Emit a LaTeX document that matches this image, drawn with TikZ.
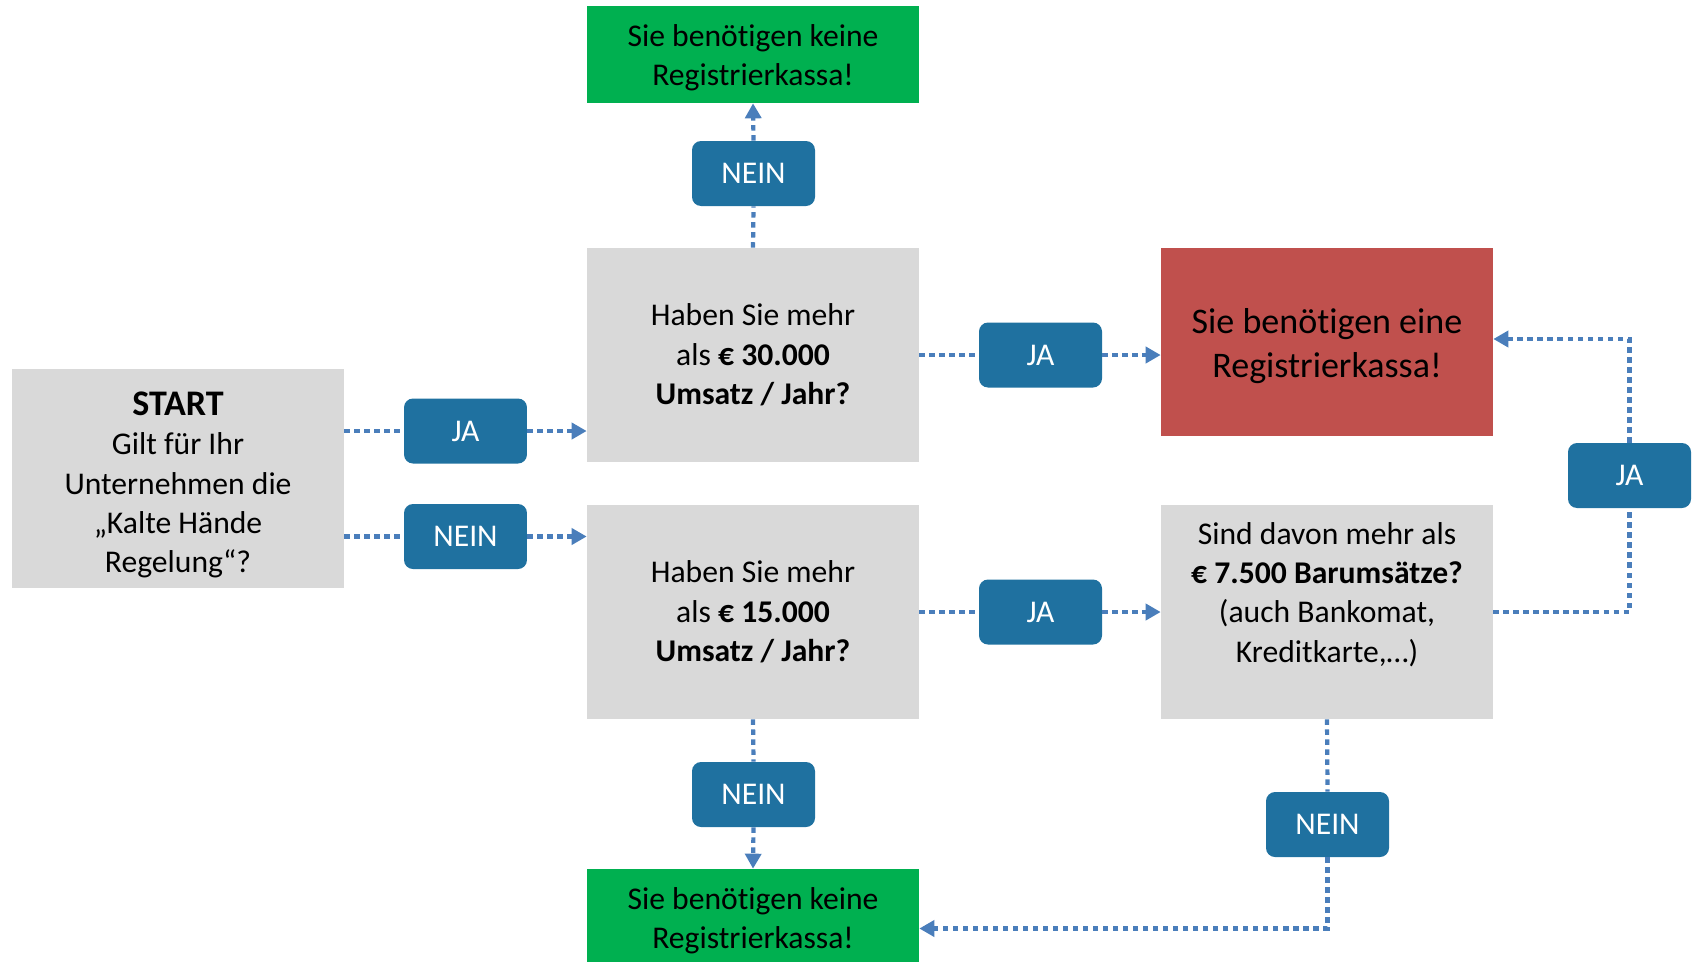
\documentclass[tikz,border=0pt]{standalone}
\usepackage{fontspec}
\setmainfont[Ligatures=NoCommon]{Carlito}
\usetikzlibrary{arrows.meta}

\definecolor{boxgrey}{HTML}{D9D9D9}
\definecolor{yesred}{HTML}{C0504D}
\definecolor{nogreen}{HTML}{00B050}
\definecolor{tagblue}{HTML}{1F71A0}
\definecolor{linkblue}{HTML}{4A7EBB}

\tikzset{
  question/.style={fill=boxgrey, minimum width=6.64cm, minimum height=4.28cm,
    inner sep=0pt, align=center, font=\fontsize{18}{22.4}\selectfont},
  result/.style={minimum width=6.64cm, inner sep=0pt, align=center},
  answer/.style={fill=tagblue, text=white, rounded corners=0.18cm,
    minimum width=2.46cm, minimum height=1.3cm, inner sep=0pt,
    font=\fontsize{18}{22.4}\selectfont},
  link/.style={draw=linkblue, line width=2.4pt, dash pattern=on 3.1pt off 2.6pt},
  linkto/.style={link, -{Triangle[length=0.3cm, width=0.32cm]}}
}

\begin{document}
\begin{tikzpicture}[x=0.02cm, y=-0.02cm]
  \useasboundingbox (0, 0) rectangle (1692, 961);

  % Start
  \node [question, minimum height=4.38cm] (start) at (178, 478.5)
        {{\bfseries\fontsize{20.5}{24}\selectfont\rule{0pt}{21pt}START}\\
         Gilt für Ihr\\ Unternehmen die\\ „Kalte Hände\\ Regelung“?};

  % Questions
  \node [question] (umsatz30) at (753, 355)
        {Haben Sie mehr\\ als \textbf{€ 30.000}\\ \textbf{Umsatz / Jahr?}};
  \node [question] (umsatz15) at (753, 612)
        {Haben Sie mehr\\ als \textbf{€ 15.000}\\ \textbf{Umsatz / Jahr?}};
  \node [question] (barumsatz) at (1327, 612)
        {Sind davon mehr als\\ \textbf{€ 7.500 Barumsätze?}\\
         (auch Bankomat,\\ Kreditkarte,…)\\ \mbox{}};

  % Results
  \node [result, fill=nogreen, minimum height=1.94cm,
         font=\fontsize{18}{22.4}\selectfont] (keine1) at (753, 54.5)
        {\rule{0pt}{16pt}Sie benötigen keine\\ Registrierkassa!};
  \node [result, fill=nogreen, minimum height=1.94cm,
         font=\fontsize{18}{22.4}\selectfont] (keine2) at (753, 917.5)
        {\rule{0pt}{16pt}Sie benötigen keine\\ Registrierkassa!};
  \node [result, fill=yesred, minimum height=3.76cm,
         font=\fontsize{20.5}{25.2}\selectfont] (eine) at (1327, 342)
        {\rule{0pt}{19pt}Sie benötigen eine\\ Registrierkassa!};

  % Answers
  \node [answer] (jaStart) at (465.5, 431) {JA};
  \node [answer] (neinStart) at (465.5, 536.5) {NEIN};
  \node [answer] (nein30) at (753.5, 173.5) {NEIN};
  \node [answer] (ja30) at (1040.5, 355) {JA};
  \node [answer] (ja15) at (1040.5, 612) {JA};
  \node [answer] (nein15) at (753.5, 794.5) {NEIN};
  \node [answer] (jaBar) at (1629.5, 475.5) {JA};
  \node [answer] (neinBar) at (1327.5, 824.5) {NEIN};

  % Edges
  \draw [link] (jaStart.west -| start.east) -- (jaStart.west);
  \draw [linkto] (jaStart.east) -- (jaStart.east -| umsatz30.west);
  \draw [link] (neinStart.west -| start.east) -- (neinStart.west);
  \draw [linkto] (neinStart.east) -- (neinStart.east -| umsatz15.west);

  \draw [link] (umsatz30.north) -- (nein30.south);
  \draw [linkto] (nein30.north) -- (keine1.south);
  \draw [link] (ja30.west -| umsatz30.east) -- (ja30.west);
  \draw [linkto] (ja30.east) -- (ja30.east -| eine.west);

  \draw [link] (umsatz15.south) -- (nein15.north);
  \draw [linkto] (nein15.south) -- (keine2.north);
  \draw [link] (ja15.west -| umsatz15.east) -- (ja15.west);
  \draw [linkto] (ja15.east) -- (ja15.east -| barumsatz.west);

  \draw [link] (barumsatz.east) -| (jaBar.south);
  \draw [linkto] (jaBar.north) |- ([yshift=0.06cm]eine.east);
  \draw [link] (barumsatz.south) -- (neinBar.north);
  \draw [linkto] (neinBar.south) |- ([yshift=-0.22cm]keine2.east);
\end{tikzpicture}
\end{document}
